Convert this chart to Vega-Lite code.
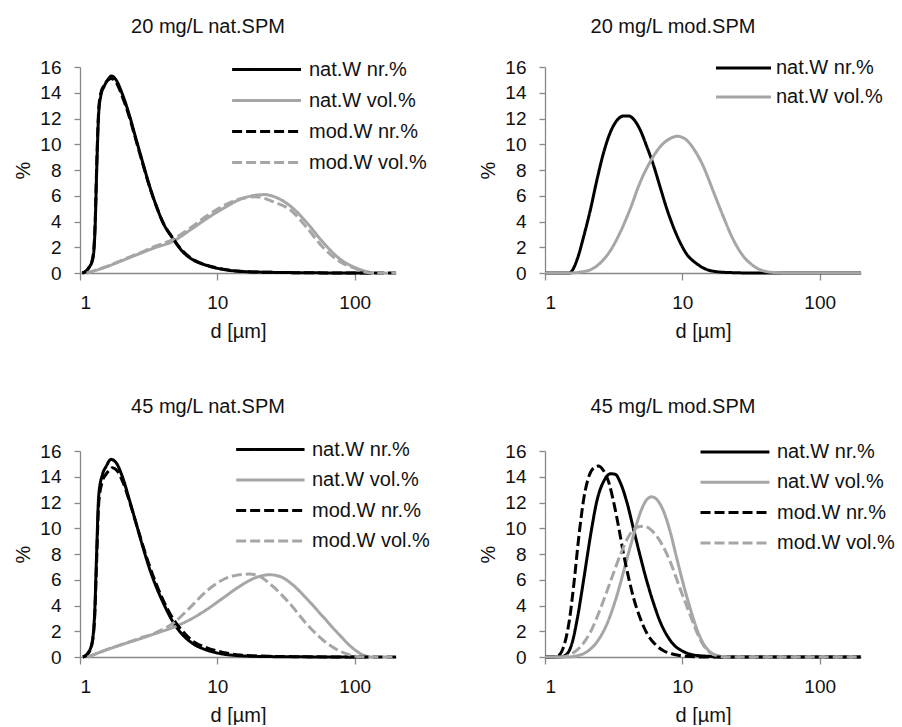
{
"$schema": "https://vega.github.io/schema/vega-lite/v6.json",
"background": "white",
"padding": {"left": 13, "top": 17, "right": 0, "bottom": 0},
"config": {
  "font": "Liberation Sans",
  "view": {"stroke": null},
  "axis": {"labelFont": "Liberation Sans", "titleFont": "Liberation Sans", "labelFontSize": 19, "titleFontSize": 20, "titleFontWeight": "normal", "labelColor": "#111", "titleColor": "#111", "domainColor": "#888", "tickColor": "#888", "grid": false, "domainWidth": 1.3, "tickWidth": 1.3},
  "title": {"font": "Liberation Sans", "fontSize": 20, "fontWeight": "normal", "color": "#111"},
  "legend": {"labelFont": "Liberation Sans", "labelFontSize": 20, "labelColor": "#111", "title": null, "symbolType": "M-1,0H9", "symbolStrokeWidth": 3, "orient": "none"}
},
"datasets": {"all": [
{"p":1,"s":"nat.W nr.%","d":1.04,"v":0},{"p":1,"s":"nat.W nr.%","d":1.12,"v":0.2},{"p":1,"s":"nat.W nr.%","d":1.17,"v":0.47},{"p":1,"s":"nat.W nr.%","d":1.24,"v":1.1},{"p":1,"s":"nat.W nr.%","d":1.29,"v":3.7},{"p":1,"s":"nat.W nr.%","d":1.32,"v":7.6},{"p":1,"s":"nat.W nr.%","d":1.37,"v":12.5},{"p":1,"s":"nat.W nr.%","d":1.42,"v":13.8},{"p":1,"s":"nat.W nr.%","d":1.5,"v":14.5},{"p":1,"s":"nat.W nr.%","d":1.59,"v":15.0},{"p":1,"s":"nat.W nr.%","d":1.7,"v":15.3},{"p":1,"s":"nat.W nr.%","d":1.83,"v":15.0},{"p":1,"s":"nat.W nr.%","d":2.05,"v":13.8},{"p":1,"s":"nat.W nr.%","d":2.29,"v":12.25},{"p":1,"s":"nat.W nr.%","d":2.56,"v":10.4},{"p":1,"s":"nat.W nr.%","d":2.86,"v":8.6},{"p":1,"s":"nat.W nr.%","d":3.2,"v":6.8},{"p":1,"s":"nat.W nr.%","d":3.58,"v":5.26},{"p":1,"s":"nat.W nr.%","d":4.0,"v":3.96},{"p":1,"s":"nat.W nr.%","d":4.74,"v":2.68},{"p":1,"s":"nat.W nr.%","d":5.6,"v":1.65},{"p":1,"s":"nat.W nr.%","d":6.6,"v":1.04},{"p":1,"s":"nat.W nr.%","d":8.3,"v":0.6},{"p":1,"s":"nat.W nr.%","d":11,"v":0.28},{"p":1,"s":"nat.W nr.%","d":14.5,"v":0.13},{"p":1,"s":"nat.W nr.%","d":25,"v":0.05},{"p":1,"s":"nat.W nr.%","d":44,"v":0.02},{"p":1,"s":"nat.W nr.%","d":78,"v":0},{"p":1,"s":"nat.W nr.%","d":135,"v":0},
{"p":1,"s":"nat.W vol.%","d":1.12,"v":0},{"p":1,"s":"nat.W vol.%","d":1.3,"v":0.2},{"p":1,"s":"nat.W vol.%","d":1.55,"v":0.47},{"p":1,"s":"nat.W vol.%","d":2.05,"v":0.98},{"p":1,"s":"nat.W vol.%","d":2.71,"v":1.5},{"p":1,"s":"nat.W vol.%","d":3.58,"v":2.0},{"p":1,"s":"nat.W vol.%","d":4.74,"v":2.45},{"p":1,"s":"nat.W vol.%","d":6.27,"v":3.3},{"p":1,"s":"nat.W vol.%","d":8.3,"v":4.2},{"p":1,"s":"nat.W vol.%","d":10.97,"v":5.0},{"p":1,"s":"nat.W vol.%","d":14.5,"v":5.7},{"p":1,"s":"nat.W vol.%","d":19.2,"v":6.05},{"p":1,"s":"nat.W vol.%","d":22.1,"v":6.09},{"p":1,"s":"nat.W vol.%","d":25.4,"v":5.96},{"p":1,"s":"nat.W vol.%","d":33.5,"v":5.26},{"p":1,"s":"nat.W vol.%","d":44.4,"v":3.96},{"p":1,"s":"nat.W vol.%","d":58.7,"v":2.4},{"p":1,"s":"nat.W vol.%","d":77.6,"v":1.11},{"p":1,"s":"nat.W vol.%","d":102.6,"v":0.39},{"p":1,"s":"nat.W vol.%","d":121,"v":0.13},{"p":1,"s":"nat.W vol.%","d":137,"v":0},
{"p":1,"s":"mod.W nr.%","d":1.04,"v":0},{"p":1,"s":"mod.W nr.%","d":1.12,"v":0.2},{"p":1,"s":"mod.W nr.%","d":1.17,"v":0.5},{"p":1,"s":"mod.W nr.%","d":1.24,"v":1.2},{"p":1,"s":"mod.W nr.%","d":1.29,"v":4.0},{"p":1,"s":"mod.W nr.%","d":1.32,"v":8.0},{"p":1,"s":"mod.W nr.%","d":1.37,"v":12.8},{"p":1,"s":"mod.W nr.%","d":1.42,"v":14.0},{"p":1,"s":"mod.W nr.%","d":1.5,"v":14.6},{"p":1,"s":"mod.W nr.%","d":1.59,"v":14.95},{"p":1,"s":"mod.W nr.%","d":1.68,"v":15.1},{"p":1,"s":"mod.W nr.%","d":1.83,"v":14.8},{"p":1,"s":"mod.W nr.%","d":2.05,"v":13.6},{"p":1,"s":"mod.W nr.%","d":2.29,"v":12.1},{"p":1,"s":"mod.W nr.%","d":2.56,"v":10.3},{"p":1,"s":"mod.W nr.%","d":2.86,"v":8.5},{"p":1,"s":"mod.W nr.%","d":3.2,"v":6.75},{"p":1,"s":"mod.W nr.%","d":3.58,"v":5.25},{"p":1,"s":"mod.W nr.%","d":4.0,"v":3.98},{"p":1,"s":"mod.W nr.%","d":4.74,"v":2.72},{"p":1,"s":"mod.W nr.%","d":5.6,"v":1.7},{"p":1,"s":"mod.W nr.%","d":6.6,"v":1.08},{"p":1,"s":"mod.W nr.%","d":8.3,"v":0.62},{"p":1,"s":"mod.W nr.%","d":11,"v":0.3},{"p":1,"s":"mod.W nr.%","d":14.5,"v":0.14},{"p":1,"s":"mod.W nr.%","d":25,"v":0.05},{"p":1,"s":"mod.W nr.%","d":44,"v":0.02},{"p":1,"s":"mod.W nr.%","d":78,"v":0},{"p":1,"s":"mod.W nr.%","d":200,"v":0},
{"p":1,"s":"mod.W vol.%","d":1.12,"v":0},{"p":1,"s":"mod.W vol.%","d":1.3,"v":0.22},{"p":1,"s":"mod.W vol.%","d":1.55,"v":0.5},{"p":1,"s":"mod.W vol.%","d":2.05,"v":1.02},{"p":1,"s":"mod.W vol.%","d":2.71,"v":1.55},{"p":1,"s":"mod.W vol.%","d":3.58,"v":2.1},{"p":1,"s":"mod.W vol.%","d":4.74,"v":2.6},{"p":1,"s":"mod.W vol.%","d":6.27,"v":3.45},{"p":1,"s":"mod.W vol.%","d":8.3,"v":4.4},{"p":1,"s":"mod.W vol.%","d":10.97,"v":5.2},{"p":1,"s":"mod.W vol.%","d":14.5,"v":5.75},{"p":1,"s":"mod.W vol.%","d":18.7,"v":5.92},{"p":1,"s":"mod.W vol.%","d":22.1,"v":5.8},{"p":1,"s":"mod.W vol.%","d":25.4,"v":5.55},{"p":1,"s":"mod.W vol.%","d":33.5,"v":4.95},{"p":1,"s":"mod.W vol.%","d":44.4,"v":3.58},{"p":1,"s":"mod.W vol.%","d":58.7,"v":2.0},{"p":1,"s":"mod.W vol.%","d":77.6,"v":0.9},{"p":1,"s":"mod.W vol.%","d":102.6,"v":0.33},{"p":1,"s":"mod.W vol.%","d":121,"v":0.05},{"p":1,"s":"mod.W vol.%","d":137,"v":0},{"p":1,"s":"mod.W vol.%","d":200,"v":0},
{"p":2,"s":"nat.W nr.%","d":1,"v":0},{"p":2,"s":"nat.W nr.%","d":1.5,"v":0},{"p":2,"s":"nat.W nr.%","d":1.58,"v":0.2},{"p":2,"s":"nat.W nr.%","d":1.72,"v":1.1},{"p":2,"s":"nat.W nr.%","d":1.92,"v":2.9},{"p":2,"s":"nat.W nr.%","d":2.15,"v":5.0},{"p":2,"s":"nat.W nr.%","d":2.4,"v":7.33},{"p":2,"s":"nat.W nr.%","d":2.68,"v":9.4},{"p":2,"s":"nat.W nr.%","d":3.0,"v":10.96},{"p":2,"s":"nat.W nr.%","d":3.35,"v":11.87},{"p":2,"s":"nat.W nr.%","d":3.74,"v":12.2},{"p":2,"s":"nat.W nr.%","d":4.07,"v":12.2},{"p":2,"s":"nat.W nr.%","d":4.42,"v":11.94},{"p":2,"s":"nat.W nr.%","d":4.94,"v":11.1},{"p":2,"s":"nat.W nr.%","d":5.52,"v":9.8},{"p":2,"s":"nat.W nr.%","d":6.17,"v":8.37},{"p":2,"s":"nat.W nr.%","d":6.89,"v":6.68},{"p":2,"s":"nat.W nr.%","d":7.7,"v":5.0},{"p":2,"s":"nat.W nr.%","d":8.6,"v":3.58},{"p":2,"s":"nat.W nr.%","d":9.6,"v":2.41},{"p":2,"s":"nat.W nr.%","d":10.7,"v":1.5},{"p":2,"s":"nat.W nr.%","d":12.7,"v":0.73},{"p":2,"s":"nat.W nr.%","d":15,"v":0.28},{"p":2,"s":"nat.W nr.%","d":18.7,"v":0.08},{"p":2,"s":"nat.W nr.%","d":24.7,"v":0.02},{"p":2,"s":"nat.W nr.%","d":32,"v":0},{"p":2,"s":"nat.W nr.%","d":200,"v":0},
{"p":2,"s":"nat.W vol.%","d":1,"v":0},{"p":2,"s":"nat.W vol.%","d":1.5,"v":0},{"p":2,"s":"nat.W vol.%","d":1.82,"v":0.08},{"p":2,"s":"nat.W vol.%","d":2.15,"v":0.26},{"p":2,"s":"nat.W vol.%","d":2.54,"v":0.8},{"p":2,"s":"nat.W vol.%","d":3.0,"v":1.76},{"p":2,"s":"nat.W vol.%","d":3.54,"v":3.19},{"p":2,"s":"nat.W vol.%","d":4.18,"v":5.0},{"p":2,"s":"nat.W vol.%","d":4.94,"v":7.07},{"p":2,"s":"nat.W vol.%","d":5.83,"v":8.63},{"p":2,"s":"nat.W vol.%","d":6.89,"v":9.8},{"p":2,"s":"nat.W vol.%","d":8.13,"v":10.44},{"p":2,"s":"nat.W vol.%","d":9.2,"v":10.62},{"p":2,"s":"nat.W vol.%","d":10.4,"v":10.44},{"p":2,"s":"nat.W vol.%","d":11.96,"v":9.72},{"p":2,"s":"nat.W vol.%","d":14.1,"v":8.37},{"p":2,"s":"nat.W vol.%","d":16.7,"v":6.42},{"p":2,"s":"nat.W vol.%","d":19.7,"v":4.48},{"p":2,"s":"nat.W vol.%","d":23.3,"v":2.67},{"p":2,"s":"nat.W vol.%","d":27.5,"v":1.37},{"p":2,"s":"nat.W vol.%","d":32.5,"v":0.6},{"p":2,"s":"nat.W vol.%","d":38.5,"v":0.18},{"p":2,"s":"nat.W vol.%","d":47.9,"v":0.03},{"p":2,"s":"nat.W vol.%","d":60,"v":0},{"p":2,"s":"nat.W vol.%","d":200,"v":0},
{"p":3,"s":"nat.W nr.%","d":1.05,"v":0},{"p":3,"s":"nat.W nr.%","d":1.14,"v":0.29},{"p":3,"s":"nat.W nr.%","d":1.22,"v":1.06},{"p":3,"s":"nat.W nr.%","d":1.28,"v":3.5},{"p":3,"s":"nat.W nr.%","d":1.32,"v":7.9},{"p":3,"s":"nat.W nr.%","d":1.37,"v":12.6},{"p":3,"s":"nat.W nr.%","d":1.46,"v":14.2},{"p":3,"s":"nat.W nr.%","d":1.55,"v":14.8},{"p":3,"s":"nat.W nr.%","d":1.68,"v":15.35},{"p":3,"s":"nat.W nr.%","d":1.83,"v":15.1},{"p":3,"s":"nat.W nr.%","d":2.05,"v":13.9},{"p":3,"s":"nat.W nr.%","d":2.29,"v":12.2},{"p":3,"s":"nat.W nr.%","d":2.56,"v":10.4},{"p":3,"s":"nat.W nr.%","d":2.86,"v":8.6},{"p":3,"s":"nat.W nr.%","d":3.2,"v":6.9},{"p":3,"s":"nat.W nr.%","d":3.58,"v":5.48},{"p":3,"s":"nat.W nr.%","d":4.0,"v":4.3},{"p":3,"s":"nat.W nr.%","d":4.74,"v":2.75},{"p":3,"s":"nat.W nr.%","d":5.6,"v":1.71},{"p":3,"s":"nat.W nr.%","d":6.6,"v":1.06},{"p":3,"s":"nat.W nr.%","d":8.3,"v":0.55},{"p":3,"s":"nat.W nr.%","d":11,"v":0.23},{"p":3,"s":"nat.W nr.%","d":14.5,"v":0.1},{"p":3,"s":"nat.W nr.%","d":25,"v":0.03},{"p":3,"s":"nat.W nr.%","d":44,"v":0.01},{"p":3,"s":"nat.W nr.%","d":122,"v":0},
{"p":3,"s":"nat.W vol.%","d":1.14,"v":0},{"p":3,"s":"nat.W vol.%","d":1.55,"v":0.55},{"p":3,"s":"nat.W vol.%","d":2.05,"v":0.99},{"p":3,"s":"nat.W vol.%","d":2.71,"v":1.4},{"p":3,"s":"nat.W vol.%","d":3.58,"v":1.84},{"p":3,"s":"nat.W vol.%","d":4.74,"v":2.29},{"p":3,"s":"nat.W vol.%","d":6.27,"v":2.88},{"p":3,"s":"nat.W vol.%","d":8.3,"v":3.66},{"p":3,"s":"nat.W vol.%","d":10.97,"v":4.57},{"p":3,"s":"nat.W vol.%","d":14.5,"v":5.48},{"p":3,"s":"nat.W vol.%","d":19.2,"v":6.18},{"p":3,"s":"nat.W vol.%","d":23.9,"v":6.39},{"p":3,"s":"nat.W vol.%","d":28.5,"v":6.26},{"p":3,"s":"nat.W vol.%","d":35.5,"v":5.6},{"p":3,"s":"nat.W vol.%","d":44.4,"v":4.57},{"p":3,"s":"nat.W vol.%","d":58.7,"v":3.14},{"p":3,"s":"nat.W vol.%","d":77.6,"v":1.71},{"p":3,"s":"nat.W vol.%","d":97,"v":0.68},{"p":3,"s":"nat.W vol.%","d":115,"v":0.16},{"p":3,"s":"nat.W vol.%","d":128,"v":0},
{"p":3,"s":"mod.W nr.%","d":1.05,"v":0},{"p":3,"s":"mod.W nr.%","d":1.14,"v":0.25},{"p":3,"s":"mod.W nr.%","d":1.22,"v":0.95},{"p":3,"s":"mod.W nr.%","d":1.28,"v":3.2},{"p":3,"s":"mod.W nr.%","d":1.32,"v":7.3},{"p":3,"s":"mod.W nr.%","d":1.37,"v":12.0},{"p":3,"s":"mod.W nr.%","d":1.46,"v":13.7},{"p":3,"s":"mod.W nr.%","d":1.55,"v":14.2},{"p":3,"s":"mod.W nr.%","d":1.63,"v":14.5},{"p":3,"s":"mod.W nr.%","d":1.72,"v":14.7},{"p":3,"s":"mod.W nr.%","d":1.85,"v":14.5},{"p":3,"s":"mod.W nr.%","d":2.05,"v":13.6},{"p":3,"s":"mod.W nr.%","d":2.29,"v":12.1},{"p":3,"s":"mod.W nr.%","d":2.56,"v":10.4},{"p":3,"s":"mod.W nr.%","d":2.86,"v":8.7},{"p":3,"s":"mod.W nr.%","d":3.2,"v":7.1},{"p":3,"s":"mod.W nr.%","d":3.58,"v":5.7},{"p":3,"s":"mod.W nr.%","d":4.0,"v":4.5},{"p":3,"s":"mod.W nr.%","d":4.74,"v":3.0},{"p":3,"s":"mod.W nr.%","d":5.6,"v":2.0},{"p":3,"s":"mod.W nr.%","d":6.6,"v":1.25},{"p":3,"s":"mod.W nr.%","d":8.3,"v":0.73},{"p":3,"s":"mod.W nr.%","d":11,"v":0.36},{"p":3,"s":"mod.W nr.%","d":14.5,"v":0.16},{"p":3,"s":"mod.W nr.%","d":25,"v":0.05},{"p":3,"s":"mod.W nr.%","d":44,"v":0.02},{"p":3,"s":"mod.W nr.%","d":80,"v":0},{"p":3,"s":"mod.W nr.%","d":200,"v":0},
{"p":3,"s":"mod.W vol.%","d":1.14,"v":0},{"p":3,"s":"mod.W vol.%","d":1.55,"v":0.55},{"p":3,"s":"mod.W vol.%","d":2.05,"v":1.0},{"p":3,"s":"mod.W vol.%","d":2.71,"v":1.45},{"p":3,"s":"mod.W vol.%","d":3.58,"v":1.9},{"p":3,"s":"mod.W vol.%","d":4.74,"v":2.6},{"p":3,"s":"mod.W vol.%","d":6.27,"v":3.8},{"p":3,"s":"mod.W vol.%","d":8.3,"v":5.1},{"p":3,"s":"mod.W vol.%","d":10.97,"v":6.0},{"p":3,"s":"mod.W vol.%","d":14.5,"v":6.39},{"p":3,"s":"mod.W vol.%","d":17.1,"v":6.44},{"p":3,"s":"mod.W vol.%","d":20.3,"v":6.26},{"p":3,"s":"mod.W vol.%","d":25.4,"v":5.48},{"p":3,"s":"mod.W vol.%","d":33.5,"v":4.18},{"p":3,"s":"mod.W vol.%","d":44.4,"v":2.6},{"p":3,"s":"mod.W vol.%","d":58.7,"v":1.32},{"p":3,"s":"mod.W vol.%","d":77.6,"v":0.47},{"p":3,"s":"mod.W vol.%","d":97,"v":0.1},{"p":3,"s":"mod.W vol.%","d":115,"v":0},{"p":3,"s":"mod.W vol.%","d":200,"v":0},
{"p":4,"s":"nat.W nr.%","d":1,"v":0},{"p":4,"s":"nat.W nr.%","d":1.3,"v":0},{"p":4,"s":"nat.W nr.%","d":1.46,"v":0.29},{"p":4,"s":"nat.W nr.%","d":1.585,"v":1.2},{"p":4,"s":"nat.W nr.%","d":1.72,"v":3.0},{"p":4,"s":"nat.W nr.%","d":1.92,"v":6.13},{"p":4,"s":"nat.W nr.%","d":2.15,"v":9.5},{"p":4,"s":"nat.W nr.%","d":2.4,"v":12.23},{"p":4,"s":"nat.W nr.%","d":2.68,"v":13.66},{"p":4,"s":"nat.W nr.%","d":3.0,"v":14.23},{"p":4,"s":"nat.W nr.%","d":3.26,"v":14.18},{"p":4,"s":"nat.W nr.%","d":3.54,"v":13.53},{"p":4,"s":"nat.W nr.%","d":3.96,"v":11.97},{"p":4,"s":"nat.W nr.%","d":4.42,"v":9.9},{"p":4,"s":"nat.W nr.%","d":4.94,"v":7.82},{"p":4,"s":"nat.W nr.%","d":5.52,"v":5.87},{"p":4,"s":"nat.W nr.%","d":6.17,"v":4.18},{"p":4,"s":"nat.W nr.%","d":6.89,"v":2.75},{"p":4,"s":"nat.W nr.%","d":7.7,"v":1.71},{"p":4,"s":"nat.W nr.%","d":8.6,"v":0.99},{"p":4,"s":"nat.W nr.%","d":10.2,"v":0.42},{"p":4,"s":"nat.W nr.%","d":12,"v":0.16},{"p":4,"s":"nat.W nr.%","d":15.8,"v":0.05},{"p":4,"s":"nat.W nr.%","d":20,"v":0},{"p":4,"s":"nat.W nr.%","d":200,"v":0},
{"p":4,"s":"nat.W vol.%","d":1,"v":0},{"p":4,"s":"nat.W vol.%","d":1.46,"v":0},{"p":4,"s":"nat.W vol.%","d":1.72,"v":0.1},{"p":4,"s":"nat.W vol.%","d":2.03,"v":0.42},{"p":4,"s":"nat.W vol.%","d":2.4,"v":1.2},{"p":4,"s":"nat.W vol.%","d":2.84,"v":2.62},{"p":4,"s":"nat.W vol.%","d":3.35,"v":4.83},{"p":4,"s":"nat.W vol.%","d":3.85,"v":7.17},{"p":4,"s":"nat.W vol.%","d":4.42,"v":9.5},{"p":4,"s":"nat.W vol.%","d":4.94,"v":11.2},{"p":4,"s":"nat.W vol.%","d":5.52,"v":12.23},{"p":4,"s":"nat.W vol.%","d":6.0,"v":12.44},{"p":4,"s":"nat.W vol.%","d":6.52,"v":12.23},{"p":4,"s":"nat.W vol.%","d":7.3,"v":11.32},{"p":4,"s":"nat.W vol.%","d":8.14,"v":9.77},{"p":4,"s":"nat.W vol.%","d":9.1,"v":7.69},{"p":4,"s":"nat.W vol.%","d":10.2,"v":5.61},{"p":4,"s":"nat.W vol.%","d":11.4,"v":3.79},{"p":4,"s":"nat.W vol.%","d":12.7,"v":2.23},{"p":4,"s":"nat.W vol.%","d":14.2,"v":1.06},{"p":4,"s":"nat.W vol.%","d":15.8,"v":0.42},{"p":4,"s":"nat.W vol.%","d":18.2,"v":0.1},{"p":4,"s":"nat.W vol.%","d":20.9,"v":0},{"p":4,"s":"nat.W vol.%","d":200,"v":0},
{"p":4,"s":"mod.W nr.%","d":1,"v":0},{"p":4,"s":"mod.W nr.%","d":1.17,"v":0},{"p":4,"s":"mod.W nr.%","d":1.27,"v":0.16},{"p":4,"s":"mod.W nr.%","d":1.38,"v":0.94},{"p":4,"s":"mod.W nr.%","d":1.5,"v":2.75},{"p":4,"s":"mod.W nr.%","d":1.63,"v":5.87},{"p":4,"s":"mod.W nr.%","d":1.77,"v":9.5},{"p":4,"s":"mod.W nr.%","d":1.92,"v":12.36},{"p":4,"s":"mod.W nr.%","d":2.09,"v":14.05},{"p":4,"s":"mod.W nr.%","d":2.27,"v":14.7},{"p":4,"s":"mod.W nr.%","d":2.44,"v":14.83},{"p":4,"s":"mod.W nr.%","d":2.68,"v":14.44},{"p":4,"s":"mod.W nr.%","d":2.92,"v":13.53},{"p":4,"s":"mod.W nr.%","d":3.17,"v":11.97},{"p":4,"s":"mod.W nr.%","d":3.45,"v":10.0},{"p":4,"s":"mod.W nr.%","d":3.74,"v":7.95},{"p":4,"s":"mod.W nr.%","d":4.07,"v":6.13},{"p":4,"s":"mod.W nr.%","d":4.42,"v":4.57},{"p":4,"s":"mod.W nr.%","d":4.94,"v":3.0},{"p":4,"s":"mod.W nr.%","d":5.52,"v":1.84},{"p":4,"s":"mod.W nr.%","d":6.34,"v":0.99},{"p":4,"s":"mod.W nr.%","d":7.3,"v":0.49},{"p":4,"s":"mod.W nr.%","d":8.6,"v":0.21},{"p":4,"s":"mod.W nr.%","d":10.7,"v":0.05},{"p":4,"s":"mod.W nr.%","d":14,"v":0},{"p":4,"s":"mod.W nr.%","d":200,"v":0},
{"p":4,"s":"mod.W vol.%","d":1,"v":0},{"p":4,"s":"mod.W vol.%","d":1.3,"v":0},{"p":4,"s":"mod.W vol.%","d":1.54,"v":0.21},{"p":4,"s":"mod.W vol.%","d":1.82,"v":0.81},{"p":4,"s":"mod.W vol.%","d":2.15,"v":1.97},{"p":4,"s":"mod.W vol.%","d":2.54,"v":3.79},{"p":4,"s":"mod.W vol.%","d":3.0,"v":5.87},{"p":4,"s":"mod.W vol.%","d":3.54,"v":7.95},{"p":4,"s":"mod.W vol.%","d":4.07,"v":9.38},{"p":4,"s":"mod.W vol.%","d":4.67,"v":10.08},{"p":4,"s":"mod.W vol.%","d":5.22,"v":10.16},{"p":4,"s":"mod.W vol.%","d":6.0,"v":9.82},{"p":4,"s":"mod.W vol.%","d":6.89,"v":9.0},{"p":4,"s":"mod.W vol.%","d":8.14,"v":7.43},{"p":4,"s":"mod.W vol.%","d":9.6,"v":5.35},{"p":4,"s":"mod.W vol.%","d":11.4,"v":3.27},{"p":4,"s":"mod.W vol.%","d":12.7,"v":1.97},{"p":4,"s":"mod.W vol.%","d":14.2,"v":0.94},{"p":4,"s":"mod.W vol.%","d":15.8,"v":0.36},{"p":4,"s":"mod.W vol.%","d":18.2,"v":0.08},{"p":4,"s":"mod.W vol.%","d":20.9,"v":0},{"p":4,"s":"mod.W vol.%","d":200,"v":0}
]},
"data": {"name": "all"},
"columns": 2,
"bounds": "flush",
"spacing": {"row": 178, "column": 149},
"resolve": {"scale": {"color": "independent", "strokeDash": "independent"}},
"concat": [
{
  "width": 316, "height": 206,
  "title": {"text": "20 mg/L nat.SPM", "dx": -30, "offset": 21},
  "transform": [{"filter": "datum.p == 1"}],
  "mark": {"type": "line", "strokeWidth": 3, "interpolate": "monotone"},
  "encoding": {
    "x": {"field": "d", "type": "quantitative", "scale": {"type": "log", "domain": [1, 200], "nice": false}, "axis": {"values": [1, 10, 100], "format": "d", "title": "d [µm]", "tickSize": 7, "labelPadding": 13, "titlePadding": 9}},
    "y": {"field": "v", "type": "quantitative", "scale": {"domain": [0, 16], "nice": false}, "axis": {"values": [0, 2, 4, 6, 8, 10, 12, 14, 16], "title": "%", "tickSize": 6, "labelPadding": 13, "titlePadding": 6}},
    "color": {"field": "s", "type": "nominal", "scale": {"domain": ["nat.W nr.%", "nat.W vol.%", "mod.W nr.%", "mod.W vol.%"], "range": ["#000000", "#a6a6a6", "#000000", "#a6a6a6"]}, "legend": {"legendX": 149, "legendY": -7.5, "symbolSize": 190, "rowPadding": 11, "labelOffset": 60}},
    "strokeDash": {"field": "s", "type": "nominal", "scale": {"domain": ["nat.W nr.%", "nat.W vol.%", "mod.W nr.%", "mod.W vol.%"], "range": [[1, 0], [1, 0], [10, 4], [10, 4]]}, "legend": {"legendX": 149, "legendY": -7.5, "symbolSize": 190, "rowPadding": 11, "labelOffset": 60}}
  }
},
{
  "width": 316, "height": 206,
  "title": {"text": "20 mg/L mod.SPM", "dx": -30, "offset": 21},
  "transform": [{"filter": "datum.p == 2"}],
  "mark": {"type": "line", "strokeWidth": 3, "interpolate": "monotone"},
  "encoding": {
    "x": {"field": "d", "type": "quantitative", "scale": {"type": "log", "domain": [1, 200], "nice": false}, "axis": {"values": [1, 10, 100], "format": "d", "title": "d [µm]", "tickSize": 7, "labelPadding": 13, "titlePadding": 9}},
    "y": {"field": "v", "type": "quantitative", "scale": {"domain": [0, 16], "nice": false}, "axis": {"values": [0, 2, 4, 6, 8, 10, 12, 14, 16], "title": "%", "tickSize": 6, "labelPadding": 13, "titlePadding": 6}},
    "color": {"field": "s", "type": "nominal", "scale": {"domain": ["nat.W nr.%", "nat.W vol.%"], "range": ["#000000", "#a6a6a6"]}, "legend": {"legendX": 166.5, "legendY": -9, "symbolSize": 121, "rowPadding": 9, "labelOffset": 44.5}},
    "strokeDash": {"field": "s", "type": "nominal", "scale": {"domain": ["nat.W nr.%", "nat.W vol.%"], "range": [[1, 0], [1, 0]]}, "legend": {"legendX": 166.5, "legendY": -9, "symbolSize": 121, "rowPadding": 9, "labelOffset": 44.5}}
  }
},
{
  "width": 316, "height": 206,
  "title": {"text": "45 mg/L nat.SPM", "dx": -30, "offset": 22.5},
  "transform": [{"filter": "datum.p == 3"}],
  "mark": {"type": "line", "strokeWidth": 3, "interpolate": "monotone"},
  "encoding": {
    "x": {"field": "d", "type": "quantitative", "scale": {"type": "log", "domain": [1, 200], "nice": false}, "axis": {"values": [1, 10, 100], "format": "d", "title": "d [µm]", "tickSize": 7, "labelPadding": 13, "titlePadding": 9}},
    "y": {"field": "v", "type": "quantitative", "scale": {"domain": [0, 16], "nice": false}, "axis": {"values": [0, 2, 4, 6, 8, 10, 12, 14, 16], "title": "%", "tickSize": 6, "labelPadding": 13, "titlePadding": 6}},
    "color": {"field": "s", "type": "nominal", "scale": {"domain": ["nat.W nr.%", "nat.W vol.%", "mod.W nr.%", "mod.W vol.%"], "range": ["#000000", "#a6a6a6", "#000000", "#a6a6a6"]}, "legend": {"legendX": 153, "legendY": -11.5, "symbolSize": 187, "rowPadding": 10.5, "labelOffset": 59}},
    "strokeDash": {"field": "s", "type": "nominal", "scale": {"domain": ["nat.W nr.%", "nat.W vol.%", "mod.W nr.%", "mod.W vol.%"], "range": [[1, 0], [1, 0], [10, 4], [10, 4]]}, "legend": {"legendX": 153, "legendY": -11.5, "symbolSize": 187, "rowPadding": 10.5, "labelOffset": 59}}
  }
},
{
  "width": 316, "height": 206,
  "title": {"text": "45 mg/L mod.SPM", "dx": -30, "offset": 25},
  "transform": [{"filter": "datum.p == 4"}],
  "mark": {"type": "line", "strokeWidth": 3, "interpolate": "monotone"},
  "encoding": {
    "x": {"field": "d", "type": "quantitative", "scale": {"type": "log", "domain": [1, 200], "nice": false}, "axis": {"values": [1, 10, 100], "format": "d", "title": "d [µm]", "tickSize": 7, "labelPadding": 13, "titlePadding": 9}},
    "y": {"field": "v", "type": "quantitative", "scale": {"domain": [0, 16], "nice": false}, "axis": {"values": [0, 2, 4, 6, 8, 10, 12, 14, 16], "title": "%", "tickSize": 6, "labelPadding": 13, "titlePadding": 6}},
    "color": {"field": "s", "type": "nominal", "scale": {"domain": ["nat.W nr.%", "nat.W vol.%", "mod.W nr.%", "mod.W vol.%"], "range": ["#000000", "#a6a6a6", "#000000", "#a6a6a6"]}, "legend": {"legendX": 152.4, "legendY": -9, "symbolSize": 190, "rowPadding": 10.3, "labelOffset": 59.6}},
    "strokeDash": {"field": "s", "type": "nominal", "scale": {"domain": ["nat.W nr.%", "nat.W vol.%", "mod.W nr.%", "mod.W vol.%"], "range": [[1, 0], [1, 0], [10, 4], [10, 4]]}, "legend": {"legendX": 152.4, "legendY": -9, "symbolSize": 190, "rowPadding": 10.3, "labelOffset": 59.6}}
  }
}
]
}
